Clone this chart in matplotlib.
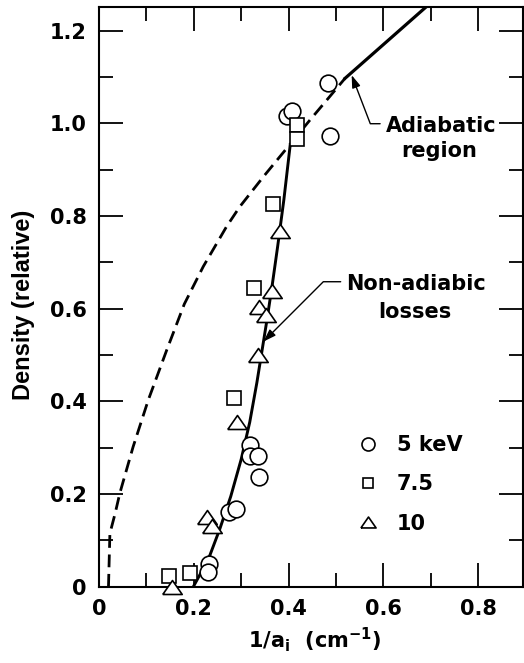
import matplotlib
matplotlib.use('Agg')
import matplotlib.pyplot as plt
from matplotlib.ticker import MultipleLocator

plt.rcParams['font.family'] = ['DejaVu Sans']
plt.rcParams['mathtext.fontset'] = 'dejavusans'

# ---- data ----
circ_x = [0.484, 0.396, 0.407, 0.487, 0.319, 0.319, 0.336, 0.338, 0.275, 0.288, 0.233, 0.231]
circ_y = [1.087, 1.015, 1.027, 0.972, 0.306, 0.281, 0.281, 0.237, 0.162, 0.168, 0.050, 0.032]

sq_x = [0.417, 0.417, 0.368, 0.328, 0.285, 0.193, 0.148]
sq_y = [0.996, 0.966, 0.826, 0.645, 0.408, 0.030, 0.023]

tri_x = [0.381, 0.364, 0.337, 0.352, 0.335, 0.292, 0.228, 0.238, 0.154]
tri_y = [0.768, 0.638, 0.603, 0.586, 0.500, 0.355, 0.151, 0.130, 0.000]

nonad_x = [0.199, 0.215, 0.234, 0.255, 0.278, 0.300, 0.318, 0.333, 0.344, 0.355, 0.366, 0.377, 0.390, 0.403]
nonad_y = [0.000, 0.030, 0.068, 0.125, 0.195, 0.275, 0.355, 0.440, 0.510, 0.580, 0.655, 0.735, 0.835, 0.950]

dash_x = [0.020, 0.023, 0.034, 0.044, 0.072, 0.104, 0.143, 0.180, 0.220, 0.269, 0.297, 0.347, 0.396, 0.445, 0.487, 0.519]
dash_y = [0.000, 0.115, 0.158, 0.202, 0.302, 0.403, 0.511, 0.610, 0.691, 0.777, 0.820, 0.885, 0.946, 1.007, 1.058, 1.097]

adiab_x = [0.519, 0.691]
adiab_y = [1.097, 1.252]

series_labels = ['5 keV', '7.5', '10']
xtick_vals = [0, 0.2, 0.4, 0.6, 0.8]
xtick_labels = ['0', '0.2', '0.4', '0.6', '0.8']
ytick_vals = [0, 0.2, 0.4, 0.6, 0.8, 1.0, 1.2]
ytick_labels = ['0', '0.2', '0.4', '0.6', '0.8', '1.0', '1.2']

adiab_tip = (0.533, 1.104)
nonad_tip = (0.347, 0.529)

# ---- figure ----
W, H = 524, 663
fig = plt.figure(figsize=(W / 100, H / 100), dpi=100)
ax = fig.add_axes([99 / W, 1 - 586.7 / H, 424 / W, 579.7 / H])
ax.set_xlim(0, 0.8945)
ax.set_ylim(0, 1.251)

ax.plot(dash_x, dash_y, color='k', lw=2.0, ls=(0, (4.6, 2.4)), zorder=2)
ax.plot(nonad_x, nonad_y, color='k', lw=2.1, zorder=2)
ax.plot(adiab_x, adiab_y, color='k', lw=2.3, zorder=2, clip_on=True)

tri_marker = [(-1.0, -0.72), (1.0, -0.72), (0.0, 0.72), (-1.0, -0.72)]
mk = dict(ls='none', mfc='white', mec='k', mew=1.2, zorder=3, clip_on=False)
ax.plot(circ_x, circ_y, marker='o', ms=12, label=series_labels[0], **mk)
ax.plot(sq_x, sq_y, marker='s', ms=9.8, label=series_labels[1], **mk)
ax.plot(tri_x, tri_y, marker=tri_marker, ms=14, label=series_labels[2], **mk)

# ticks
ax.set_xticks(xtick_vals, labels=xtick_labels)
ax.set_yticks(ytick_vals, labels=ytick_labels)
ax.xaxis.set_minor_locator(MultipleLocator(0.1))
ax.yaxis.set_minor_locator(MultipleLocator(0.1))
ax.tick_params(which='both', direction='in', top=True, right=True, width=1.3, color='k')
ax.tick_params(which='major', length=17)
ax.tick_params(which='minor', length=10)
ax.tick_params(axis='x', which='major', pad=9, labelsize=15)
ax.tick_params(axis='y', which='major', pad=9, labelsize=15)
for lab in ax.get_xticklabels() + ax.get_yticklabels():
    lab.set_fontweight('bold')
for s in ax.spines.values():
    s.set_linewidth(1.5)

ax.set_xlabel('1/a$_{\\mathregular{i}}$  (cm$^{\\mathregular{-1}}$)', fontsize=15,
              fontweight='bold', va='center')
ax.xaxis.set_label_coords((315 - 99) / 424, (586.7 - 640) / 579.7)
ax.set_ylabel('Density (relative)', fontsize=17, fontweight='bold', va='center',
              family=['Liberation Sans', 'DejaVu Sans'])
ax.yaxis.set_label_coords((24 - 99) / 424, (586.7 - 305) / 579.7)

# legend
leg = ax.legend(loc='upper left', bbox_to_anchor=((359.6 - 99) / 424, (586.7 - 435) / 579.7),
                frameon=False, borderpad=0, handlelength=0.8, handletextpad=1.0,
                labelspacing=0.93, markerscale=0.78, prop={'weight': 'bold', 'size': 15},
                borderaxespad=0)

# annotations
arr = '-|>,head_length=0.5,head_width=0.17'
ax.annotate('Adiabatic', xy=adiab_tip, xytext=(0.7215, 0.981), ha='center', va='baseline',
            fontsize=15, fontweight='bold',
            arrowprops=dict(arrowstyle=arr, lw=1.0, color='k', relpos=(0, 0.62),
                            shrinkA=2, shrinkB=0,
                            connectionstyle='angle,angleA=0,angleB=111,rad=0'))
ax.text(0.718, 0.927, 'region', ha='center', va='baseline', fontsize=15, fontweight='bold')

ax.annotate('Non-adiabic', xy=nonad_tip, xytext=(0.669, 0.640), ha='center', va='baseline',
            fontsize=15, fontweight='bold',
            arrowprops=dict(arrowstyle=arr, lw=1.0, color='k', relpos=(0, 0.62),
                            shrinkA=2, shrinkB=0,
                            connectionstyle='angle,angleA=0,angleB=45,rad=0'))
ax.text(0.666, 0.580, 'losses', ha='center', va='baseline', fontsize=15, fontweight='bold')

fig.savefig('out.png', dpi=100)
